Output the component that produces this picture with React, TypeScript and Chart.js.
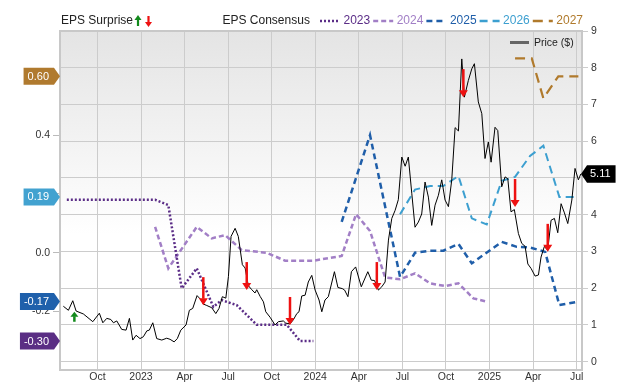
import React, { useEffect, useRef } from "react";
import { Chart, registerables } from "chart.js";

Chart.register(...registerables);

// x unit: months since Jan 2022 (0 = Jan 2022)
const MONTH_NAMES = ["Jan", "Feb", "Mar", "Apr", "May", "Jun", "Jul", "Aug", "Sep", "Oct", "Nov", "Dec"];
const xTickMonths = [9, 12, 15, 18, 21, 24, 27, 30, 33, 36, 39, 42];
const priceTicks = [0, 1, 2, 3, 4, 5, 6, 7, 8, 9];
const epsTicks = [-0.2, 0.0, 0.2, 0.4, 0.6];

const priceMonths = [
  6.65, 7.0, 7.3, 7.53, 8.03, 8.68, 9.13, 9.37, 9.64, 9.92, 10.1, 10.33, 10.67, 10.97, 11.2, 11.43, 11.66, 11.93,
  12.16, 12.4, 12.57, 12.81, 13.08, 13.43, 13.77, 14.0, 14.28, 14.5, 14.74, 15.1, 15.33, 15.56, 15.86, 16.14, 16.29,
  16.53, 16.87, 17.15, 17.37, 17.6, 17.84, 18.02, 18.2, 18.48, 18.7, 18.98, 19.17, 19.39, 19.63, 19.85, 19.97, 20.2,
  20.43, 20.59, 20.89, 21.23, 21.46, 21.8, 21.97, 22.26, 22.49, 22.73, 22.88, 23.07, 23.3, 23.52, 23.76, 23.99, 24.26,
  24.45, 24.67, 24.9, 25.32, 25.56, 25.86, 26.02, 26.25, 26.49, 26.78, 27.17, 27.62, 27.86, 28.08, 28.35, 28.58, 28.81,
  29.04, 29.27, 29.5, 29.72, 29.96, 30.19, 30.41, 30.65, 30.87, 31.1, 31.33, 31.56, 31.79, 32.02, 32.25, 32.48, 32.71,
  32.94, 33.17, 33.4, 33.63, 33.86, 34.09, 34.27, 34.54, 34.78, 34.96, 35.23, 35.47, 35.69, 35.92, 36.11, 36.38, 36.57,
  36.84, 37.07, 37.26, 37.48, 37.71, 37.99, 38.22, 38.45, 38.64, 38.86, 39.14, 39.37, 39.55, 39.78, 40.01, 40.24, 40.47,
  40.7, 40.93, 41.16, 41.39, 41.67, 41.89, 42.12, 42.29,
];
const priceValues = [
  1.51, 1.4, 1.66, 1.38, 1.3, 1.09, 1.32, 1.06, 1.18, 1.15, 1.06, 1.11, 0.88, 0.86, 1.18, 0.59, 0.72, 0.63,
  0.68, 0.84, 0.86, 1.06, 0.63, 0.59, 0.64, 0.61, 0.54, 0.63, 0.86, 1.0, 1.4, 1.45, 1.8, 1.68, 1.57,
  1.53, 1.47, 1.31, 1.45, 1.77, 1.73, 2.32, 3.41, 3.63, 3.41, 2.64, 2.55, 2.07, 1.96, 1.87, 1.96, 1.78,
  1.63, 1.36, 1.21, 1.0, 1.09, 1.11, 1.05, 1.03, 1.14, 1.31, 1.36, 1.79, 1.81, 2.17, 2.35, 1.95, 1.68,
  1.36, 1.68, 1.77, 2.45, 2.02, 1.99, 1.95, 1.77, 2.45, 2.58, 2.04, 2.45, 2.22, 2.21, 1.95, 2.04, 2.17,
  3.31, 3.9, 4.12, 4.41, 5.57, 5.32, 5.57, 4.57, 3.66, 3.8, 4.02, 4.89, 4.48, 3.71, 4.26, 4.53, 4.95,
  4.4, 4.22, 4.95, 6.37, 6.28, 8.24, 7.2, 7.65, 7.97, 8.11, 7.07, 6.75, 5.53, 5.98, 5.43, 6.38, 6.29,
  4.76, 5.03, 4.98, 4.08, 4.14, 3.49, 3.22, 3.14, 2.66, 2.54, 2.33, 2.36, 2.85, 3.14, 3.03, 3.85, 3.9,
  3.51, 4.3, 4.05, 3.76, 4.4, 5.26, 4.95, 5.11,
];
const lastPrice = 5.11;

const eps2023Months = [6.89, 12.97, 13.88, 14.8, 15.84, 16.98, 17.56, 18.59, 19.97, 22.04, 22.95, 23.87];
const eps2023Values = [0.18, 0.18, 0.162, -0.121, -0.053, -0.184, -0.161, -0.178, -0.245, -0.245, -0.3, -0.3];

const eps2024Months = [12.97, 13.88, 15.84, 16.87, 17.79, 18.94, 20.66, 21.92, 23.87, 25.82, 26.81, 27.77, 28.81, 29.84, 30.87, 31.91, 32.94, 33.86, 34.89, 35.81];
const eps2024Values = [0.088, -0.053, 0.088, 0.049, 0.06, 0.009, 0.0, -0.027, -0.027, -0.011, 0.131, 0.074, -0.084, -0.09, -0.07, -0.104, -0.113, -0.104, -0.155, -0.166];

const eps2025Months = [25.82, 27.77, 29.84, 30.87, 31.91, 32.82, 33.86, 34.78, 36.84, 37.88, 38.79, 39.83, 40.81, 42.12];
const eps2025Values = [0.105, 0.4, -0.082, 0.0, 0.007, 0.007, 0.03, -0.036, 0.037, 0.02, 0.018, 0.003, -0.178, -0.166];

const eps2026Months = [29.84, 30.87, 31.91, 32.82, 33.86, 34.78, 35.81, 36.84, 37.76, 38.79, 39.71, 40.81, 42.12];
const eps2026Values = [0.131, 0.215, 0.227, 0.227, 0.261, 0.117, 0.096, 0.245, 0.258, 0.329, 0.364, 0.19, 0.19];

const eps2027Months = [37.76, 38.91, 39.71, 40.74, 42.12];
const eps2027Values = [0.661, 0.661, 0.525, 0.6, 0.6];

const surpriseMonths = [7.41, 16.29, 19.28, 22.26, 28.24, 34.2, 37.76, 40.01];
const surprisePrices = [1.36, 1.54, 1.95, 1.0, 1.95, 7.2, 4.21, 2.99];
const surpriseDirections = ["up", "down", "down", "down", "down", "down", "down", "down"];

const seriesLabels = ["2023", "2024", "2025", "2026", "2027"];
const badgeLabels = ["2023", "2025", "2026", "2027"];

const FONT = "'Liberation Sans', Arial, Helvetica, sans-serif";
const GREEN = "#128a1c";
const RED = "#ee1111";

function toPoints(xs: number[], ys: number[]) {
  return xs.map((x, i) => ({ x, y: ys[i] }));
}

function drawArrow(ctx: CanvasRenderingContext2D, x: number, tipY: number, dir: string, color: string, len: number, headW: number, headH: number, shaftW: number) {
  ctx.save();
  ctx.fillStyle = color;
  if (dir === "down") {
    ctx.fillRect(x - shaftW / 2, tipY - len, shaftW, len - headH + 0.5);
    ctx.beginPath();
    ctx.moveTo(x, tipY);
    ctx.lineTo(x - headW / 2, tipY - headH);
    ctx.lineTo(x + headW / 2, tipY - headH);
  } else {
    ctx.fillRect(x - shaftW / 2, tipY + headH - 0.5, shaftW, len - headH + 0.5);
    ctx.beginPath();
    ctx.moveTo(x, tipY);
    ctx.lineTo(x - headW / 2, tipY + headH);
    ctx.lineTo(x + headW / 2, tipY + headH);
  }
  ctx.closePath();
  ctx.fill();
  ctx.restore();
}

const bgPlugin = {
  id: "bgPlugin",
  beforeDraw(chart: any) {
    const { ctx, chartArea: a } = chart;
    const g = ctx.createLinearGradient(0, a.top, 0, a.bottom);
    g.addColorStop(0, "#e4e4e4");
    g.addColorStop(0.6, "#ffffff");
    g.addColorStop(1, "#ffffff");
    ctx.save();
    ctx.fillStyle = g;
    ctx.fillRect(a.left, a.top, a.right - a.left, a.bottom - a.top);
    ctx.restore();
  },
  beforeDatasetsDraw(chart: any) {
    const { ctx, chartArea: a } = chart;
    ctx.save();
    ctx.strokeStyle = "#c8c8c8";
    ctx.lineWidth = 2;
    ctx.strokeRect(a.left, a.top, a.right - a.left, a.bottom - a.top);
    ctx.restore();
  },
  afterDraw(chart: any) {
    const { ctx, chartArea: a, scales } = chart;
    const xs = scales.x;
    const yP = scales.yP;
    const yE = scales.yE;

    // Surprise arrows
    ctx.save();
    ctx.beginPath();
    ctx.rect(a.left, a.top, a.right - a.left, a.bottom - a.top);
    ctx.clip();
    surpriseMonths.forEach((m, i) => {
      const px = xs.getPixelForValue(m);
      const py = yP.getPixelForValue(surprisePrices[i]);
      if (surpriseDirections[i] === "down") drawArrow(ctx, px, py, "down", RED, 28, 9, 7, 2.5);
      else drawArrow(ctx, px, py, "up", GREEN, 10, 8, 5, 2.5);
    });
    ctx.restore();

    // Price legend inside plot
    const priceDs = chart.data.datasets[0];
    ctx.save();
    ctx.strokeStyle = "#666";
    ctx.lineWidth = 3;
    ctx.beginPath();
    ctx.moveTo(510, 42.5);
    ctx.lineTo(529, 42.5);
    ctx.stroke();
    ctx.fillStyle = "#222";
    ctx.font = `10.5px ${FONT}`;
    ctx.textBaseline = "middle";
    ctx.fillText(priceDs.label, 534, 43);
    ctx.restore();

    // Top legend
    ctx.save();
    ctx.textBaseline = "middle";
    ctx.font = `12px ${FONT}`;
    ctx.fillStyle = "#222";
    const ly = 21;
    ctx.fillText("EPS Surprise", 61, ly);
    drawArrow(ctx, 138, 15, "up", GREEN, 11, 7, 5, 2.2);
    drawArrow(ctx, 148.5, 27, "down", RED, 11, 7, 5, 2.2);
    ctx.fillStyle = "#222";
    ctx.fillText("EPS Consensus", 222.5, ly);
    let lx = 320;
    chart.data.datasets.forEach((ds: any) => {
      if (!seriesLabels.includes(ds.label)) return;
      ctx.save();
      ctx.strokeStyle = ds.borderColor;
      ctx.lineWidth = 2.5;
      ctx.setLineDash(ds.borderDash);
      ctx.beginPath();
      ctx.moveTo(lx, ly);
      ctx.lineTo(lx + 20, ly);
      ctx.stroke();
      ctx.restore();
      ctx.fillStyle = ds.borderColor;
      ctx.fillText(ds.label, lx + 23.5, ly);
      lx += 23.5 + ctx.measureText(ds.label).width + 3;
    });
    ctx.restore();

    // Left badges (last consensus values)
    ctx.save();
    ctx.font = `11px ${FONT}`;
    ctx.textBaseline = "middle";
    chart.data.datasets.forEach((ds: any) => {
      if (!badgeLabels.includes(ds.label)) return;
      const v = ds.data[ds.data.length - 1].y;
      const txt = v.toFixed(2);
      const y = yE.getPixelForValue(v);
      const tw = ctx.measureText(txt).width;
      const right = a.left;
      const bodyRight = right - 6;
      const bodyLeft = bodyRight - tw - 9;
      ctx.fillStyle = ds.badgeColor;
      ctx.beginPath();
      ctx.moveTo(right, y);
      ctx.lineTo(bodyRight, y - 8.5);
      ctx.lineTo(bodyLeft, y - 8.5);
      ctx.lineTo(bodyLeft, y + 8.5);
      ctx.lineTo(bodyRight, y + 8.5);
      ctx.closePath();
      ctx.fill();
      ctx.fillStyle = "#ffffff";
      ctx.fillText(txt, bodyLeft + 4, y + 0.5);
    });
    ctx.restore();

    // Right badge for last price
    ctx.save();
    ctx.font = `11px ${FONT}`;
    ctx.textBaseline = "middle";
    const txt = lastPrice.toFixed(2);
    const py = yP.getPixelForValue(lastPrice);
    const tw = ctx.measureText(txt).width;
    const bx = a.right - 1;
    ctx.fillStyle = "#000";
    ctx.beginPath();
    ctx.moveTo(bx, py);
    ctx.lineTo(bx + 6, py - 8.8);
    ctx.lineTo(bx + 6 + tw + 8, py - 8.8);
    ctx.lineTo(bx + 6 + tw + 8, py + 8.8);
    ctx.lineTo(bx + 6, py + 8.8);
    ctx.closePath();
    ctx.fill();
    ctx.fillStyle = "#fff";
    ctx.fillText(txt, bx + 9, py + 0.5);
    ctx.restore();
  },
};

function epsDataset(label: string, xs: number[], ys: number[], color: string, badgeColor: string, dash: number[], width: number) {
  return {
    label,
    data: toPoints(xs, ys),
    yAxisID: "yE",
    borderColor: color,
    badgeColor,
    borderDash: dash,
    borderWidth: width,
    pointRadius: 0,
    fill: false,
    tension: 0,
  };
}

export default function App() {
  const ref = useRef<HTMLCanvasElement>(null);
  useEffect(() => {
    document.body.style.margin = "0";
    Chart.defaults.font.family = FONT;
    const chart = new Chart(ref.current as HTMLCanvasElement, {
      type: "line",
      data: {
        datasets: [
          {
            label: "Price ($)",
            data: toPoints(priceMonths, priceValues),
            yAxisID: "yP",
            borderColor: "#000000",
            borderWidth: 1,
            pointRadius: 0,
            fill: false,
            tension: 0,
          } as any,
          epsDataset("2023", eps2023Months, eps2023Values, "#5b2d87", "#5a2e84", [2, 2], 2.5),
          epsDataset("2024", eps2024Months, eps2024Values, "#a27fc6", "#a27fc6", [5, 3], 2.5),
          epsDataset("2025", eps2025Months, eps2025Values, "#1f5ea9", "#1f60ab", [6, 4], 2.5),
          epsDataset("2026", eps2026Months, eps2026Values, "#3c9fd0", "#42a2d0", [8, 5], 2),
          epsDataset("2027", eps2027Months, eps2027Values, "#b07a2c", "#b07a2e", [10, 6], 2.2),
        ],
      },
      options: {
        responsive: false,
        animation: false,
        devicePixelRatio: 1,
        layout: { padding: { top: 31, left: 0, right: 0, bottom: 0 } },
        plugins: { legend: { display: false }, tooltip: { enabled: false } },
        scales: {
          x: {
            type: "linear",
            min: 6.42,
            max: 42.37,
            afterBuildTicks: (s: any) => {
              s.ticks = xTickMonths.map((v) => ({ value: v }));
            },
            afterFit: (s: any) => {
              s.height = 12;
            },
            ticks: {
              autoSkip: false,
              maxRotation: 0,
              padding: 1,
              color: "#333",
              font: { size: 10.5, family: FONT },
              callback: (v: any) => {
                const m = Number(v);
                return m % 12 === 0 ? String(2022 + m / 12) : MONTH_NAMES[m % 12];
              },
            },
            grid: { color: "#cccccc", lineWidth: 1, drawTicks: false, tickLength: 0 },
            border: { display: false },
          },
          yE: {
            type: "linear",
            position: "left",
            min: -0.3986,
            max: 0.754,
            afterBuildTicks: (s: any) => {
              s.ticks = epsTicks.map((v) => ({ value: v }));
            },
            afterFit: (s: any) => {
              s.width = 60;
            },
            ticks: {
              padding: 3,
              color: "#333",
              font: { size: 10.5, family: FONT },
              callback: (v: any) => Number(v).toFixed(1),
            },
            grid: { drawOnChartArea: false, color: "#bbbbbb", tickLength: 7 },
            border: { display: false },
          },
          yP: {
            type: "linear",
            position: "right",
            min: -0.225,
            max: 9,
            afterBuildTicks: (s: any) => {
              s.ticks = priceTicks.map((v) => ({ value: v }));
            },
            afterFit: (s: any) => {
              s.width = 58;
            },
            ticks: {
              padding: 3,
              color: "#333",
              font: { size: 10.5, family: FONT },
              callback: (v: any) => String(v),
            },
            grid: { color: "#cccccc", lineWidth: 1, tickLength: 6 },
            border: { display: false },
          },
        },
      } as any,
      plugins: [bgPlugin],
    });
    return () => chart.destroy();
  }, []);
  return (
    <div style={{ width: 640, height: 382 }}>
      <canvas ref={ref} width={640} height={382} style={{ display: "block" }} />
    </div>
  );
}
